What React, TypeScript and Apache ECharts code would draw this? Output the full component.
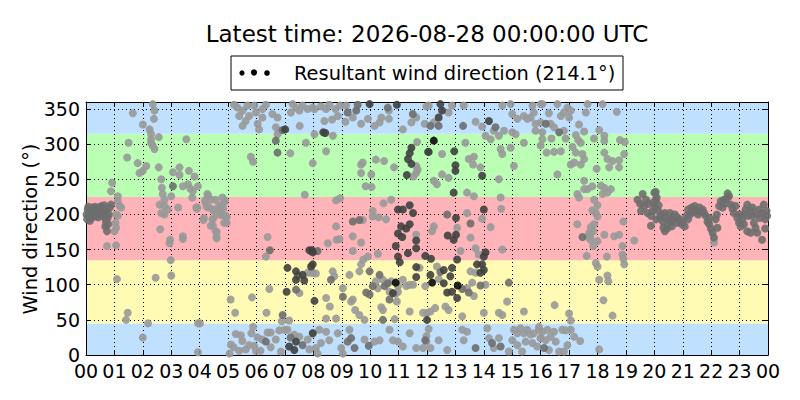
import React, { useEffect, useRef } from "react";
import * as echarts from "echarts";

const titleText = "Latest time: 2026-08-28 00:00:00 UTC";
const legendText = "Resultant wind direction (214.1°)";
const yAxisTitle = "Wind direction (°)";
const xTickLabels = [
  "00", "01", "02", "03", "04", "05", "06", "07", "08", "09", "10", "11",
  "12", "13", "14", "15", "16", "17", "18", "19", "20", "21", "22", "23", "00",
];
// direction sectors [from, to, compass]
const sectorBands: [number, number, string][] = [
  [0, 45, "N"],
  [45, 135, "E"],
  [135, 225, "S"],
  [225, 315, "W"],
  [315, 360, "N"],
];

// [hour of day, direction in degrees] — light grey observations
const lightPts: [number, number][] = [
  [0.92,245],[0.88,233],[1.12,226],[1.12,219],[1.18,212],[1.24,210],[1.06,200],[1.12,198],[1.04,188],[1.06,181],[1.0,176],[0.74,155],[1.06,156],[1.09,108],[1.47,60],[1.41,50],[1.5,302],[1.45,281],[1.65,344],[1.82,273],[1.88,259],[2.0,262],[2.12,269],[2.18,45],[2.0,25],[2.35,357],[2.41,348],[2.39,336],[2.0,328],[2.24,321],[2.29,314],[2.29,307],[2.35,298],[2.41,293],[2.29,302],[2.56,310],[2.56,267],[2.65,250],[2.67,238],[2.7,229],[2.76,221],[2.59,214],[2.65,202],[2.76,200],[2.76,212],[2.88,207],[2.61,179],[2.96,164],[2.94,159],[2.98,135],[3.0,113],[2.45,110],[3.06,260],[3.0,226],[3.29,267],[3.29,256],[3.41,240],[3.62,262],[3.53,307],[3.67,237],[3.76,233],[3.74,224],[3.24,210],[3.88,210],[3.41,169],[3.41,165],[3.94,45],[3.82,254],[3.94,240],[3.59,243],[3.94,4],
  [3.9,208],[4.19,220],[4.3,227],[4.13,192],[4.47,206],[4.47,194],[4.47,184],[4.6,175],[4.6,166],[4.77,213],[4.77,199],[4.83,208],[4.89,220],[4.95,196],[4.95,188],[4.25,211],[4.71,206],[4.01,45],[4.27,229],[4.39,221],[4.56,221],[4.8,224],[4.86,217],[4.21,217],[4.33,210],[4.5,207],[4.68,212],[4.74,202],[4.92,198],[4.15,195],[4.45,193],[4.62,200],[4.86,188],[4.39,184],[4.56,176],[4.59,168],[3.92,210],
  [5.21,356],[5.33,352],[5.51,348],[5.68,355],[5.74,340],[5.62,333],[5.51,326],[5.39,340],[5.98,345],[6.04,329],[6.09,321],[6.21,338],[6.21,350],[5.92,355],[6.33,356],[6.56,343],[6.74,338],[6.68,324],[6.74,314],[6.8,319],[7.27,357],[7.39,352],[7.51,348],[7.21,345],[7.62,355],[7.8,350],[7.98,352],[7.52,326],[7.74,302],[8.04,314],[7.19,287],[5.8,282],[5.88,275],[7.7,228],[7.98,273],[6.39,168],[6.33,140],[7.8,117],[7.98,117],[6.45,94],[7.51,88],[5.09,79],[5.84,82],[5.25,60],[6.35,60],[6.89,48],[7.15,49],[5.27,30],[5.88,40],[5.82,31],[5.5,20],[5.2,11],[5.39,6],[5.62,8],[5.74,14],[5.92,13],[6.04,25],[5.98,6],[6.21,22],[6.39,32],[6.5,11],[6.68,22],[6.8,35],[6.98,36],[7.09,36],[7.33,29],[7.51,26],[7.8,22],[7.86,8],[6.86,5],[6.14,6],[6.5,32],[5.05,2],[5.1,15],[5.45,28],
  [8.27,354],[8.56,356],[8.78,350],[8.39,333],[8.66,335],[8.86,340],[9.15,355],[9.13,332],[9.39,338],[9.68,329],[9.92,336],[10.15,326],[10.33,331],[10.39,338],[10.66,348],[10.66,336],[11.15,321],[11.45,331],[11.62,338],[11.92,329],[11.98,354],[8.04,350],[8.69,312],[8.45,350],[8.94,355],[8.45,290],[9.68,271],[9.74,274],[9.68,259],[10.04,257],[10.2,278],[10.49,276],[10.84,267],[9.84,240],[10.05,239],[11.62,269],[11.67,264],[11.65,303],[11.62,259],[11.52,254],[8.8,220],[8.94,223],[9.74,192],[8.8,183],[8.82,164],[8.92,165],[9.39,169],[9.68,160],[8.51,159],[9.39,148],[10.09,205],[10.09,197],[10.3,196],[10.47,216],[10.74,221],[10.56,193],[10.27,144],[11.62,171],[7.92,117],[8.09,116],[8.68,119],[8.74,112],[9.27,114],[9.62,119],[9.68,129],[9.76,136],[9.92,140],[10.2,105],[10.45,107],[10.74,105],[10.98,98],[11.15,107],[11.27,98],[11.39,100],[11.51,100],[11.74,124],[10.27,95],[10.68,90],[10.9,87],[10.98,90],[9.04,95],[8.45,81],[9.33,76],[9.39,79],[10.94,76],[8.58,69],[10.45,64],[10.39,68],[9.62,57],[9.47,64],[9.8,50],[8.45,52],[8.8,52],[10.86,51],[11.39,62],[11.86,60],[7.98,31],[8.21,36],[8.45,33],[8.56,21],[8.27,17],[8.09,10],[8.15,2],[8.86,31],[8.98,10],[9.04,2],[9.27,36],[9.8,22],[10.15,19],[10.33,21],[10.68,36],[10.8,21],[11.15,12],[10.98,19],[11.39,31],[11.62,10],[11.86,10],[11.98,19],[11.98,27],
  [12.06,355],[12.24,331],[12.76,345],[12.88,355],[13.29,355],[13.71,332],[13.94,325],[14.06,312],[14.35,319],[14.24,307],[14.53,312],[14.59,293],[14.65,286],[14.71,319],[14.65,355],[14.94,357],[15.0,343],[15.18,336],[15.41,340],[15.53,336],[15.65,338],[15.76,345],[15.82,329],[15.71,355],[16.0,357],[15.0,317],[15.12,314],[15.41,302],[15.82,319],[14.94,295],[12.53,286],[13.35,302],[13.47,279],[13.65,282],[13.62,271],[13.88,267],[12.53,257],[12.76,252],[12.24,248],[12.35,243],[14.53,250],[15.06,269],[13.41,231],[13.65,226],[14.59,224],[14.61,208],[13.94,194],[13.41,202],[12.24,183],[12.18,176],[13.06,181],[13.53,167],[14.24,182],[13.71,152],[14.65,150],[13.82,143],[13.18,148],[12.35,126],[13.71,117],[13.53,119],[12.41,108],[13.41,95],[13.59,103],[14.06,100],[13.65,84],[11.94,98],[12.29,67],[12.65,69],[12.76,64],[13.24,55],[14.0,60],[14.53,60],[14.65,57],[14.82,76],[15.41,62],[12.0,60],[12.12,62],[12.06,37],[12.41,21],[12.12,10],[12.71,7],[13.24,36],[13.41,33],[13.29,21],[14.12,38],[14.18,24],[14.35,10],[14.53,24],[14.88,5],[15.06,36],[15.18,31],[15.29,38],[15.41,31],[15.53,36],[15.65,29],[15.76,31],[15.94,36],[15.47,19],[15.71,17],[15.88,12],[16.0,24],[15.18,14],[15.35,5],[15.0,21],
  [16.06,357],[16.29,344],[16.59,357],[16.71,340],[16.82,345],[16.94,352],[17.06,348],[17.0,338],[16.0,331],[16.35,329],[16.47,324],[16.82,319],[16.06,317],[17.59,345],[17.65,357],[18.18,357],[18.68,346],[17.35,328],[17.53,318],[18.06,320],[16.06,307],[16.38,308],[16.88,308],[17.24,313],[17.32,306],[17.41,302],[17.88,308],[18.24,312],[18.24,305],[18.79,306],[18.96,303],[16.0,298],[16.21,288],[16.47,289],[16.71,290],[17.12,296],[17.24,288],[17.47,286],[17.53,279],[17.41,271],[17.18,274],[17.06,271],[18.24,288],[18.35,279],[18.53,276],[18.76,277],[18.94,286],[18.41,267],[18.76,267],[17.97,265],[16.59,257],[17.53,248],[17.82,240],[18.12,241],[18.24,238],[18.47,236],[17.53,236],[17.65,236],[17.29,229],[17.35,224],[18.18,229],[18.35,231],[17.88,221],[18.0,213],[17.82,206],[17.94,202],[18.0,197],[17.88,186],[17.76,182],[17.85,176],[17.71,174],[17.74,169],[17.76,164],[17.65,168],[17.29,186],[18.0,162],[17.85,155],[18.24,171],[18.59,169],[18.76,171],[18.91,190],[19.29,163],[18.88,155],[17.62,141],[18.33,140],[18.88,143],[18.91,137],[18.94,129],[17.94,131],[18.0,126],[18.35,113],[18.38,105],[18.06,107],[18.21,78],[18.53,56],[16.49,71],[17.0,59],[17.06,49],[15.94,40],[16.06,33],[16.24,36],[16.47,33],[16.76,36],[16.88,35],[17.06,36],[16.0,24],[16.18,21],[16.35,26],[16.53,19],[16.29,7],[16.65,5],[16.82,5],[16.94,14],[17.18,26],[17.39,20],[18.06,8],
  [22.1,160],
];

// medium grey observations
const midPts: [number, number][] = [
  [0.02,200],[0.04,193],[0.06,207],[0.08,211],[0.1,198],[0.12,203],[0.14,191],[0.16,206],[0.18,200],[0.2,210],[0.22,196],[0.24,204],[0.26,199],[0.28,208],[0.3,202],[0.32,211],[0.34,197],[0.36,205],[0.38,200],[0.4,208],[0.42,203],[0.44,196],[0.46,210],[0.48,205],[0.5,201],[0.52,207],[0.54,212],[0.56,204],[0.58,198],[0.6,209],[0.62,203],[0.64,213],[0.66,196],[0.68,183],[0.7,190],[0.72,206],[0.74,176],[0.76,195],[0.78,186],[0.8,200],[0.84,210],[0.88,214],[3.06,240],
  [6.68,305],[6.74,288],[6.92,320],[6.47,149],[7.45,113],[7.39,93],[6.33,19],[7.2,25],[7.62,14],[6.92,57],
  [9.21,345],[9.56,356],[9.51,348],[10.62,352],[11.5,343],[9.39,190],[9.62,192],[9.98,119],[10.33,114],[10.51,98],[10.62,102],[9.86,89],[9.98,86],[9.04,83],[10.68,79],[10.45,50],[9.33,24],[9.45,10],[9.21,19],[9.95,13],[8.15,148],[8.62,107],[10.09,98],
  [12.12,326],[12.41,326],[14.41,324],[13.27,326],[12.71,200],[13.53,187],[14.88,103],[13.24,94],[13.88,99],[13.47,89],[14.29,17],[14.59,12],[13.71,10],[11.94,21],[12.47,118],
  [16.18,329],[16.65,317],[17.47,168],[16.12,10],
  [19.41,221],[19.59,229],[19.71,221],[19.65,212],[19.53,205],[19.76,202],[19.88,198],[19.94,205],[20.06,193],[19.88,184],[20.06,221],[20.0,231],[20.05,232],[20.08,224],[19.96,217],[20.02,210],[20.14,205],[20.26,200],[20.37,202],[20.43,195],[20.49,188],[20.55,193],[20.61,183],[20.37,176],[20.32,181],[20.72,200],[20.78,188],[20.9,193],[20.96,186],[21.07,183],[21.13,198],[21.19,207],[21.31,210],[21.42,212],[21.48,205],[21.59,210],[21.7,207],[21.75,202],[21.81,198],[21.87,190],[21.93,186],[21.99,180],[22.05,174],[22.1,167],[22.22,181],[22.16,193],[22.28,212],[22.34,219],[22.45,221],[22.57,224],[22.63,226],[22.69,214],[22.8,202],[22.86,212],[22.92,195],[22.98,188],[23.1,193],[23.15,200],[23.21,207],[23.27,214],[23.39,205],[23.44,198],[23.5,188],[23.56,181],[23.62,174],[23.68,207],[23.8,202],[23.85,214],[23.9,193],[23.79,164],[23.27,176],[23.39,174],[23.15,186],[23.04,183],[20.67,193],[21.19,193],[21.54,200],[20.55,202],
  [20.2,195],[20.3,190],[20.45,180],[20.6,190],[20.8,196],[21.0,190],[21.25,200],[21.35,203],[21.65,204],[21.95,195],[22.4,210],[22.5,216],[22.75,208],[23.0,200],[23.3,198],[23.45,210],[23.6,200],[23.7,195],[23.95,205],[23.97,198],[19.8,215],[19.5,215],[20.15,213],[22.2,200],[22.58,230],[23.9,180],
];

// dark grey observations
const darkPts: [number, number][] = [
  [7.01,321],[7.09,124],[7.92,126],[7.98,146],[7.86,149],[7.39,119],[7.62,114],[7.68,106],[7.39,107],[7.06,90],[8.04,77],[7.15,12],[7.33,7],[7.39,19],[7.98,31],
  [8.35,317],[8.42,316],[9.98,357],[10.94,356],[11.29,256],[11.45,272],[11.39,287],[11.45,295],[11.33,279],[12.04,289],[10.98,207],[11.15,207],[11.39,213],[11.51,202],[11.09,183],[11.27,180],[10.98,173],[11.13,168],[11.39,186],[11.62,163],[10.9,155],[10.98,140],[11.33,145],[11.62,152],[11.62,125],[11.04,132],[7.95,149],[7.98,129],[10.8,88],[11.62,111],[12.0,50],
  [12.47,357],[12.53,348],[12.41,338],[14.18,333],[12.06,289],[12.96,290],[13.0,270],[13.0,262],[13.94,255],[12.94,231],[14.0,207],[13.02,195],[12.73,170],[13.02,171],[12.94,164],[14.06,146],[14.0,140],[13.06,136],[12.14,137],[11.94,141],[12.59,121],[12.12,114],[12.88,124],[12.82,112],[13.76,129],[13.94,129],[13.88,117],[14.0,121],[12.59,102],[12.71,89],[12.88,90],[13.06,81],
];

// near-black observations
const blackPts: [number, number][] = [
  [10.9,103],[12.24,305],[12.18,103],[13.08,99],
];

const FONT = "DejaVu Sans";
const bandColors: Record<string, string> = {
  N: "#bfe0ff",
  E: "#fffbb4",
  S: "#ffb4b9",
  W: "#baffb4",
};

export default function App() {
  const ref = useRef<HTMLDivElement>(null);
  useEffect(() => {
    if (!ref.current) return;
    const chart = echarts.init(ref.current, undefined, { renderer: "svg" });
    const axisCommon = {
      type: "value" as const,
      z: 2,
      axisLine: { show: true, onZero: false, lineStyle: { color: "#000", width: 1 } },
      axisTick: { show: true, inside: true, length: 5, lineStyle: { color: "#000", width: 1 } },
    };
    const scatter = (data: [number, number][], color: string) => ({
      type: "scatter",
      z: 3,
      data,
      symbolSize: 8,
      clip: true,
      itemStyle: { color, opacity: 0.9 },
      silent: true,
    });
    chart.setOption({
      animation: false,
      grid: { left: 86, right: 32, top: 102, bottom: 45, containLabel: false },
      xAxis: [
        {
          ...axisCommon,
          position: "bottom",
          min: 0,
          max: 24,
          interval: 1,
          axisLabel: {
            formatter: (v: number) => xTickLabels[Math.round(v)] ?? "",
            color: "#000",
            fontSize: 19,
            fontFamily: FONT,
            margin: 6,
            showMinLabel: true,
            showMaxLabel: true,
          },
          splitLine: { show: true, lineStyle: { color: "#000", width: 1, type: [1, 3] } },
        },
        {
          ...axisCommon,
          position: "top",
          min: 0,
          max: 24,
          interval: 1,
          axisLabel: { show: false },
          splitLine: { show: false },
        },
      ],
      yAxis: [
        {
          ...axisCommon,
          position: "left",
          min: 0,
          max: 360,
          interval: 50,
          axisLabel: {
            formatter: (v: number) => (v > 350 ? "" : String(v)),
            color: "#000",
            fontSize: 19,
            fontFamily: FONT,
            margin: 6,
            padding: [0, 0, 4, 0],
          },
          splitLine: { show: true, lineStyle: { color: "#000", width: 1, type: [1, 3] } },
        },
        {
          ...axisCommon,
          position: "right",
          min: 0,
          max: 360,
          interval: 50,
          axisLabel: { show: false },
          splitLine: { show: false },
        },
      ],
      series: [
        {
          type: "scatter",
          z: 1,
          data: [],
          silent: true,
          markArea: {
            silent: true,
            data: sectorBands.map(([from, to, key]) => [
              { yAxis: from, itemStyle: { color: bandColors[key], opacity: 1, borderWidth: 0 } },
              { yAxis: to },
            ]),
          },
        },
        scatter(lightPts, "#999999"),
        scatter(midPts, "#6e6e6e"),
        scatter(darkPts, "#404040"),
        scatter(blackPts, "#0a0a0a"),
      ],
      graphic: [
        {
          type: "text",
          x: 427,
          y: 34,
          style: {
            text: titleText,
            font: `23px "${FONT}"`,
            fill: "#000",
            textAlign: "center",
            textVerticalAlign: "middle",
          },
          silent: true,
        },
        {
          type: "rect",
          shape: { x: 231, y: 56, width: 392, height: 34 },
          style: { fill: "#fff", stroke: "#000", lineWidth: 1 },
          silent: true,
        },
        { type: "circle", shape: { cx: 242, cy: 73, r: 2.6 }, style: { fill: "#000" }, silent: true },
        { type: "circle", shape: { cx: 254, cy: 72.5, r: 3.1 }, style: { fill: "#000" }, silent: true },
        { type: "circle", shape: { cx: 267, cy: 73, r: 2.8 }, style: { fill: "#000" }, silent: true },
        {
          type: "text",
          x: 294,
          y: 73,
          style: {
            text: legendText,
            font: `19.4px "${FONT}"`,
            fill: "#000",
            textAlign: "left",
            textVerticalAlign: "middle",
          },
          silent: true,
        },
        {
          type: "text",
          x: 30,
          y: 229,
          rotation: Math.PI / 2,
          style: {
            text: yAxisTitle,
            font: `19.4px "${FONT}"`,
            fill: "#000",
            textAlign: "center",
            textVerticalAlign: "middle",
          },
          silent: true,
        },
      ],
    });
    return () => chart.dispose();
  }, []);
  return (
    <div
      ref={ref}
      style={{ position: "fixed", left: 0, top: 0, width: 800, height: 400, background: "#fff" }}
    />
  );
}
